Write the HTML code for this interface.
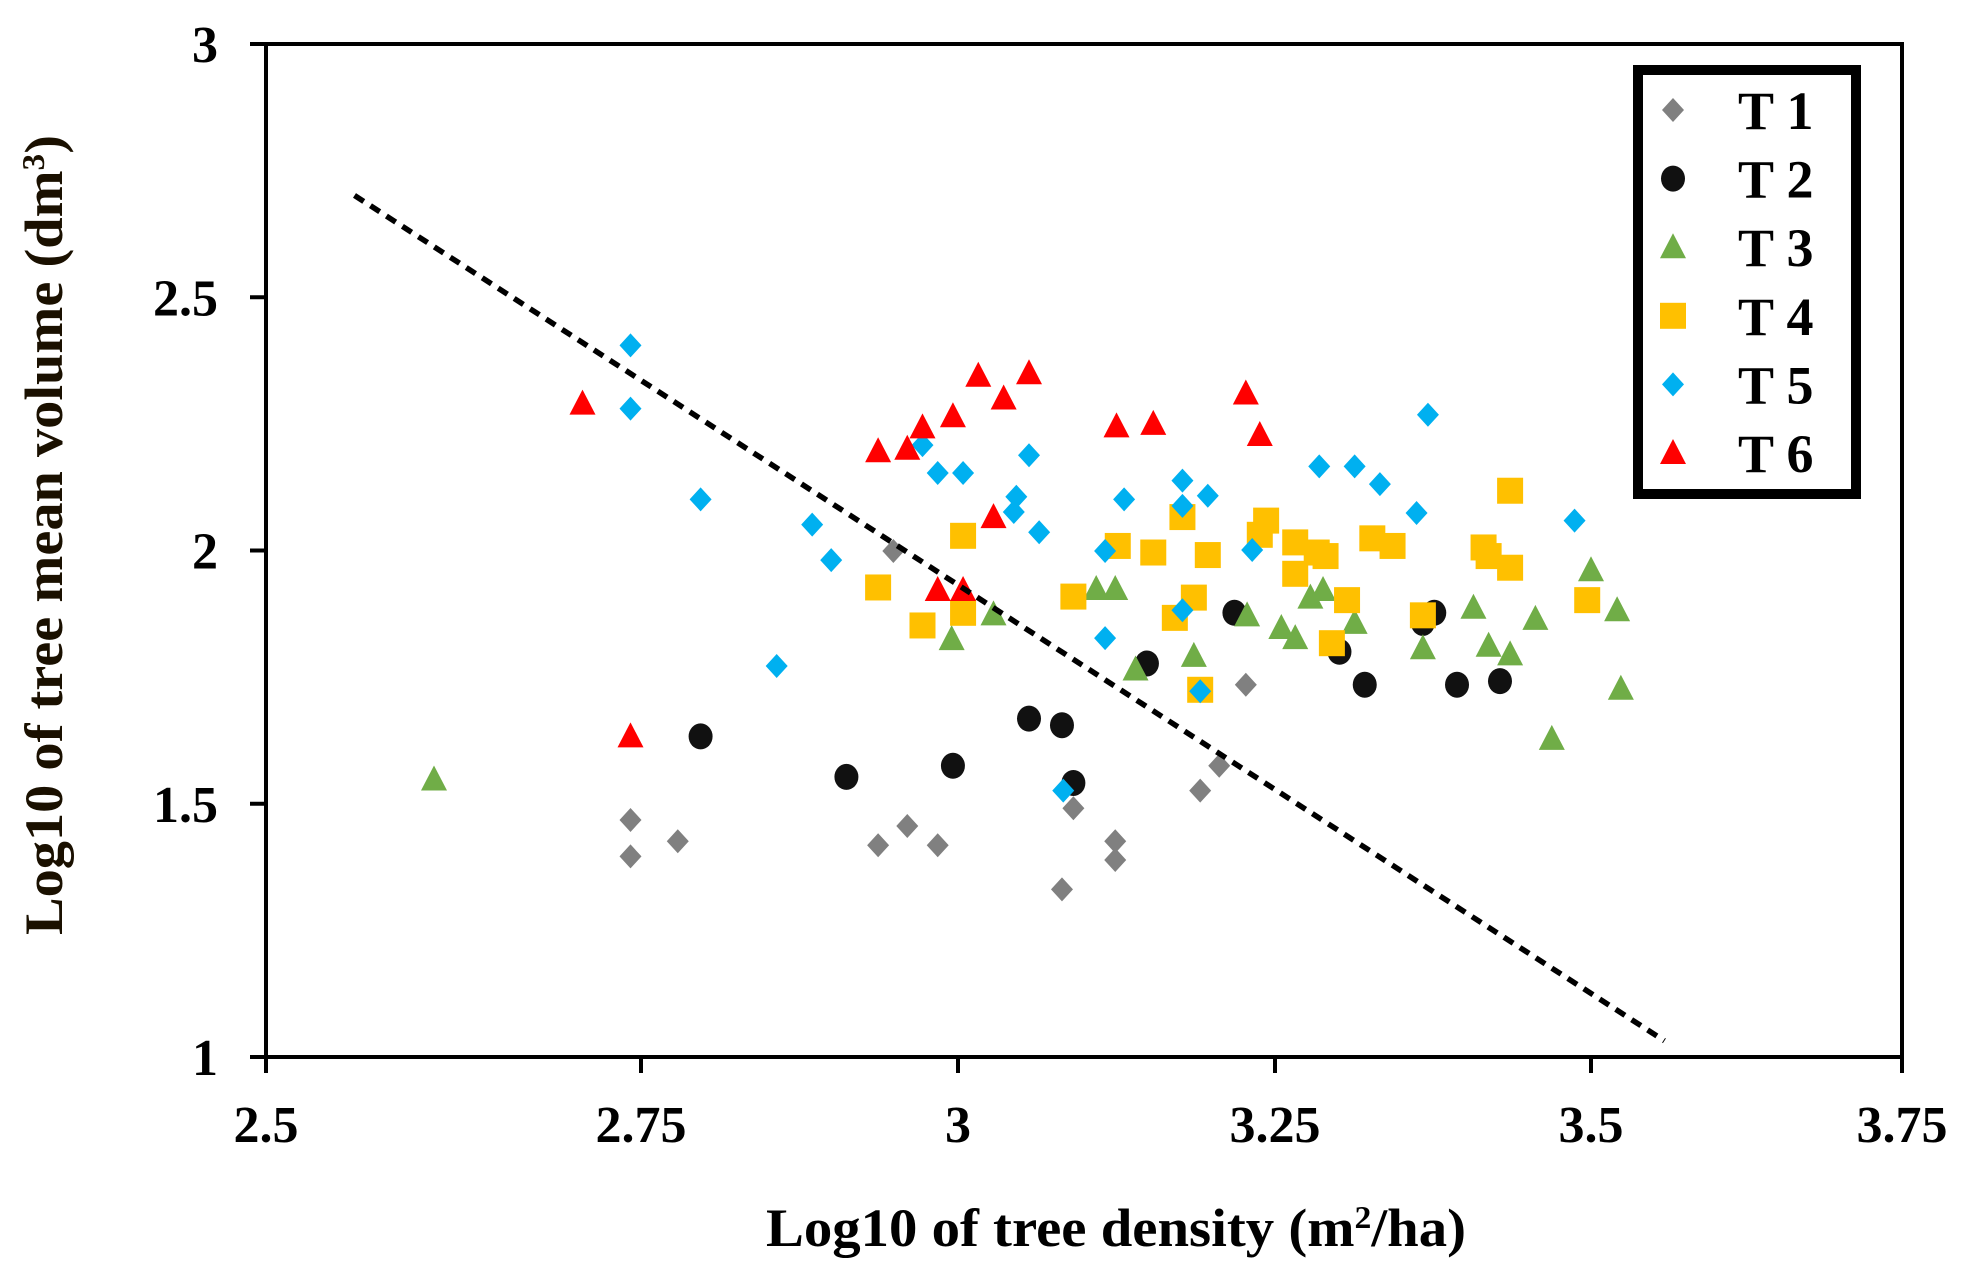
<!DOCTYPE html>
<html><head><meta charset="utf-8"><style>
body{margin:0;background:#fff;}
svg{display:block;font-family:"Liberation Serif",serif;font-weight:bold;}
</style></head><body>
<svg id="chart" width="1968" height="1267" viewBox="0 0 1968 1267">
<g id="axes"></g>
<g id="marks"></g>
<line id="trend" stroke="#000" stroke-width="5.5" stroke-dasharray="11,8"/>
<text x="1116" y="1246" font-size="54" text-anchor="middle" textLength="700" lengthAdjust="spacingAndGlyphs">Log10 of tree density (m<tspan font-size="32" dy="-18">2</tspan><tspan dy="18">/ha)</tspan></text>
<text transform="translate(62,535) rotate(-90)" font-size="54" text-anchor="middle" fill="#1a1000" textLength="800" lengthAdjust="spacingAndGlyphs">Log10 of tree mean volume (dm<tspan font-size="32" dy="-18">3</tspan><tspan dy="18">)</tspan></text>
<g id="legend"></g>
</svg>
<script>
const xTicks=[2.5,2.75,3,3.25,3.5,3.75];
const xTickLabels=["2.5","2.75","3","3.25","3.5","3.75"];
const yTicks=[1,1.5,2,2.5,3];
const yTickLabels=["1","1.5","2","2.5","3"];
const seriesNames=["T 1","T 2","T 3","T 4","T 5","T 6"];
const t1x=[2.743,2.743,2.779,2.937,2.960,2.984,2.949,3.082,3.091,3.124,3.124,3.191,3.206,3.227];
const t1y=[1.468,1.396,1.426,1.418,1.456,1.418,1.999,1.331,1.491,1.426,1.389,1.526,1.575,1.735];
const t2x=[2.797,2.912,2.996,3.056,3.082,3.091,3.149,3.218,3.301,3.321,3.367,3.376,3.394,3.428];
const t2y=[1.633,1.553,1.575,1.668,1.655,1.541,1.777,1.877,1.800,1.735,1.857,1.877,1.735,1.742];
const t3x=[2.612,2.995,3.028,3.109,3.124,3.140,3.186,3.228,3.255,3.266,3.278,3.288,3.313,3.367,3.407,3.419,3.436,3.456,3.469,3.500,3.521,3.524];
const t3y=[1.548,1.825,1.874,1.924,1.924,1.765,1.792,1.872,1.847,1.827,1.907,1.922,1.857,1.807,1.887,1.812,1.795,1.865,1.628,1.961,1.882,1.727];
const t4x=[2.937,2.972,3.004,3.004,3.091,3.126,3.154,3.177,3.171,3.186,3.197,3.191,3.238,3.243,3.266,3.266,3.283,3.290,3.295,3.307,3.327,3.343,3.367,3.415,3.419,3.436,3.436,3.497];
const t4y=[1.927,1.852,1.877,2.029,1.909,2.009,1.996,2.066,1.867,1.907,1.991,1.725,2.031,2.059,1.954,2.016,1.996,1.989,1.817,1.902,2.024,2.009,1.872,2.006,1.989,2.118,1.966,1.902];
const t5x=[2.743,2.743,2.797,2.857,2.885,2.900,2.972,2.984,3.004,3.044,3.046,3.056,3.064,3.083,3.116,3.116,3.131,3.177,3.177,3.177,3.191,3.197,3.232,3.285,3.313,3.333,3.362,3.371,3.487];
const t5y=[2.405,2.280,2.101,1.772,2.051,1.981,2.208,2.153,2.153,2.076,2.106,2.188,2.036,1.526,1.827,1.999,2.101,2.138,2.088,1.882,1.722,2.108,2.001,2.166,2.166,2.131,2.074,2.268,2.059];
const t6x=[2.711,2.743,2.937,2.960,2.972,2.984,2.996,3.004,3.016,3.028,3.036,3.056,3.125,3.154,3.227,3.238];
const t6y=[2.290,1.633,2.196,2.201,2.243,1.922,2.265,1.922,2.345,2.066,2.300,2.350,2.245,2.250,2.310,2.228];
const trendX=[2.559,3.559];
const trendY=[2.701,1.032];

const NS="http://www.w3.org/2000/svg";
const xPix=[266,641,958,1275,1591,1902];
function xs(v){for(let i=0;i<xTicks.length-1;i++){if(v<=xTicks[i+1]||i===xTicks.length-2){return xPix[i]+(v-xTicks[i])/(xTicks[i+1]-xTicks[i])*(xPix[i+1]-xPix[i]);}}}
function ys(v){return 1057-(v-1)/2*(1057-44);}
function mk(tag,attrs,parent){const e=document.createElementNS(NS,tag);for(const k in attrs)e.setAttribute(k,attrs[k]);parent.appendChild(e);return e;}
const axes=document.getElementById('axes');
let f=mk('rect',{x:266,y:44,width:1636,height:1013,fill:'none',stroke:'#000','stroke-width':4},axes);


xTicks.forEach((t,i)=>{
 const x=xs(t);
 const l=mk('line',{x1:x,x2:x,y1:1057,y2:1073,stroke:'#000','stroke-width':4},axes);
 
 
 const tx=mk('text',{x:x,y:1142,'font-size':52,'text-anchor':'middle'},axes);
 tx.textContent=xTickLabels[i];
 
 
});
yTicks.forEach((t,i)=>{
 const y=ys(t);
 const l=mk('line',{x1:250,x2:266,y1:y,y2:y,stroke:'#000','stroke-width':4},axes);
 
 
 const tx=mk('text',{x:218,y:y+18,'font-size':52,'text-anchor':'end'},axes);
 tx.textContent=yTickLabels[i];
 
 
});
function marker(type,color,x,y,parent){
 let e;
 if(type==='diamond'){e=mk('polygon',{points:`${x},${y-12} ${x+11},${y} ${x},${y+12} ${x-11},${y}`,fill:color},parent);}
 else if(type==='circle'){e=mk('ellipse',{cx:x,cy:y,rx:12,ry:13,fill:color},parent);}
 else if(type==='triangle'){e=mk('polygon',{points:`${x},${y-14} ${x+13},${y+11} ${x-13},${y+11}`,fill:color},parent);}
 else {e=mk('rect',{x:x-13,y:y-13,width:26,height:26,fill:color},parent);}
 return e;
}
const series=[[t1x,t1y,'diamond','#808080'],[t2x,t2y,'circle','#111111'],[t3x,t3y,'triangle','#70ad47'],[t4x,t4y,'square','#ffc000'],[t5x,t5y,'diamond','#00b0f0'],[t6x,t6y,'triangle','#ff0000']];
const marks=document.getElementById('marks');
series.forEach((s,si)=>{
 const g=mk('g',{},marks);
 
 
 s[0].forEach((xv,i)=>{
  const m=marker(s[2],s[3],xs(xv),ys(s[1][i]),g);
  
  
 });
});
const tr=document.getElementById('trend');
tr.setAttribute('x1',xs(trendX[0]));tr.setAttribute('y1',ys(trendY[0]));
tr.setAttribute('x2',xs(trendX[1]));tr.setAttribute('y2',ys(trendY[1]));
const lg=document.getElementById('legend');
const box=mk('rect',{x:1638,y:70,width:218,height:424,fill:'#fff',stroke:'#000','stroke-width':10},lg);


series.forEach((s,si)=>{
 const y=110+si*68.6;
 const g=mk('g',{},lg);
 
 
 marker(s[2],s[3],1673,y,g);
 const t=mk('text',{x:1738,y:y+19,'font-size':54},g);
 t.textContent=seriesNames[si];
});
</script>
</body></html>
